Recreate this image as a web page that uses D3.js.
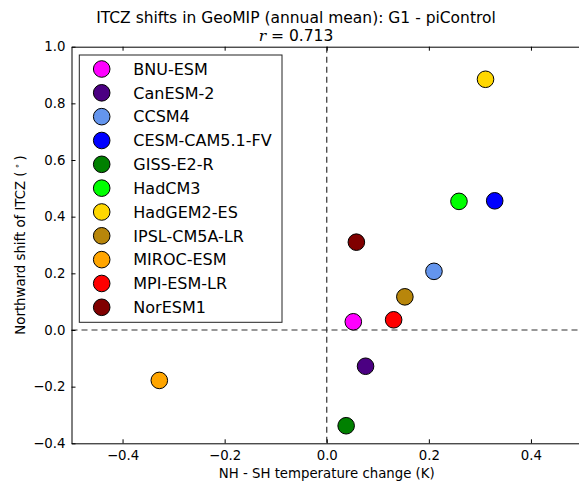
<!DOCTYPE html>
<html><head><meta charset="utf-8">
<script src="https://cdn.jsdelivr.net/npm/d3@7"></script>
<style>body{margin:0;background:#fff}svg{display:block;font-family:"DejaVu Sans",sans-serif}</style>
</head><body>
<svg id="c" width="579" height="483"></svg>
<script>
const models = ["BNU-ESM","CanESM-2","CCSM4","CESM-CAM5.1-FV","GISS-E2-R","HadCM3","HadGEM2-ES","IPSL-CM5A-LR","MIROC-ESM","MPI-ESM-LR","NorESM1"];
const colors = ["#ff00ff","#4b0082","#6495ed","#0000ff","#008000","#00ff00","#ffd700","#b8860b","#ffa500","#ff0000","#800000"];
const xVals = [0.052,0.076,0.210,0.329,0.038,0.259,0.311,0.153,-0.328,0.131,0.058];
const yVals = [0.029,-0.128,0.207,0.456,-0.338,0.454,0.885,0.117,-0.178,0.036,0.310];
const xTicks = [-0.4,-0.2,0.0,0.2,0.4];
const yTicks = [-0.4,-0.2,0.0,0.2,0.4,0.6,0.8,1.0];

const svg = d3.select("#c");
const L=71.5, R=582, T=46.7, B=443.3;
const x = d3.scaleLinear().domain([-0.5,0.5]).range([L,R]);
const y = d3.scaleLinear().domain([-0.4,1.0]).range([B,T]);
const fmt = d => (d<0?"\u2212":"") + Math.abs(d).toFixed(1);

// zero lines
svg.append("line").attr("x1",x(0)).attr("x2",x(0)).attr("y1",T).attr("y2",B)
  .attr("stroke","#333").attr("stroke-width",1.2).attr("stroke-dasharray","6,4");
svg.append("line").attr("x1",L).attr("x2",R).attr("y1",y(0)).attr("y2",y(0))
  .attr("stroke","#333").attr("stroke-width",1.2).attr("stroke-dasharray","6,4");

// axes
const gx = svg.append("g").attr("transform",`translate(0,${B})`)
  .call(d3.axisBottom(x).tickValues(xTicks).tickFormat(fmt).tickSizeInner(-4).tickSizeOuter(0).tickPadding(7));
const gxt = svg.append("g").attr("transform",`translate(0,${T})`)
  .call(d3.axisTop(x).tickValues(xTicks).tickFormat("").tickSizeInner(-4).tickSizeOuter(0));
const gy = svg.append("g").attr("transform",`translate(${L},0)`)
  .call(d3.axisLeft(y).tickValues(yTicks).tickFormat(fmt).tickSizeInner(-4).tickSizeOuter(0).tickPadding(6));
[gx,gxt,gy].forEach(g=>{
  g.selectAll("path.domain").attr("stroke","#000").attr("stroke-width",1);
  g.selectAll(".tick line").attr("stroke","#000");
  g.selectAll("text").attr("font-size","13.3px").attr("fill","#000").attr("font-family","DejaVu Sans");
});

// points
svg.append("g").selectAll("circle").data(models).join("circle")
  .attr("cx",(d,i)=>x(xVals[i])).attr("cy",(d,i)=>y(yVals[i])).attr("r",8.3)
  .attr("fill",(d,i)=>colors[i]).attr("stroke","#000").attr("stroke-width",1);

// legend
const lg = svg.append("g");
lg.append("rect").attr("x",79.3).attr("y",55).attr("width",202.7).attr("height",267.3)
  .attr("fill","#fff").attr("stroke","#222").attr("stroke-width",1);
const rows = lg.selectAll("g.row").data(models).join("g").attr("class","row")
  .attr("transform",(d,i)=>`translate(0,${69+i*23.83})`);
rows.append("circle").attr("cx",101.7).attr("cy",0).attr("r",8.3)
  .attr("fill",(d,i)=>colors[i]).attr("stroke","#000").attr("stroke-width",1);
rows.append("text").attr("x",133.3).attr("y",0).attr("dy","0.36em").attr("font-size","16px").text(d=>d);

// titles
svg.append("text").attr("x",296).attr("y",22.5).attr("text-anchor","middle").attr("font-size","15.5px")
  .text("ITCZ shifts in GeoMIP (annual mean): G1 - piControl");
const rt = svg.append("text").attr("x",296).attr("y",41).attr("text-anchor","middle").attr("font-size","15.5px");
rt.append("tspan").attr("font-family","DejaVu Serif").attr("font-style","italic").text("r");
rt.append("tspan").text(" = 0.713");

svg.append("text").attr("x",x(0)).attr("y",478).attr("text-anchor","middle").attr("font-size","13.3px")
  .text("NH - SH temperature change (K)");
const yl = svg.append("text").attr("transform",`translate(25,${(T+B)/2}) rotate(-90)`).attr("text-anchor","middle").attr("font-size","13.3px");
yl.append("tspan").text("Northward shift of ITCZ (\u2009");
yl.append("tspan").attr("font-size","9px").attr("dy","-5").text("\u2218");
yl.append("tspan").attr("dy","5").text("\u2009)");
</script>
</body></html>
